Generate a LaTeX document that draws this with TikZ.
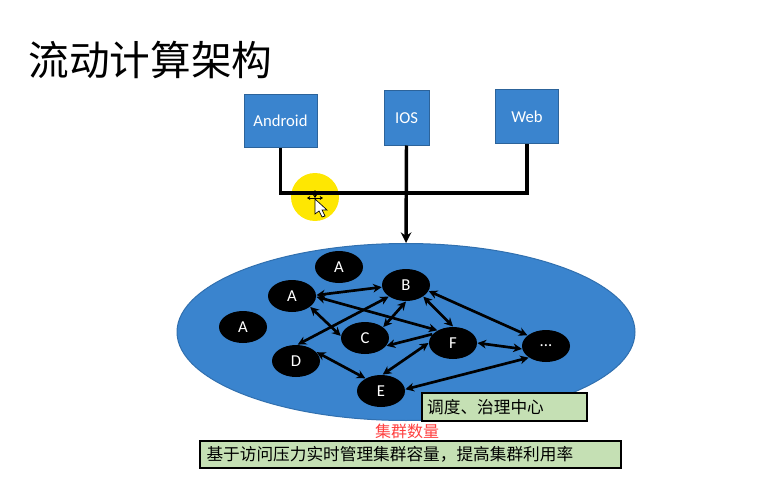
\documentclass[tikz,border=0pt]{standalone}
\usepackage{fontspec}
\setmainfont{Carlito}
\newfontfamily\cjk{Noto Sans CJK SC}
\usetikzlibrary{arrows.meta,shapes.geometric}
\definecolor{clusterblue}{HTML}{3A84CE}
\definecolor{notegreen}{HTML}{C5E0B4}
\tikzset{every picture/.style={line width=0.75pt}}
\tikzset{
  clientbox/.style={draw=clusterblue!75!black,fill=clusterblue,text=white,inner sep=0pt,font=\fontsize{12.5}{14}\selectfont},
  workernode/.style={ellipse,fill=black,text=white,inner sep=0pt,minimum width=36pt,minimum height=24pt,font=\fontsize{12.5}{14}\selectfont},
  notebox/.style={draw=black,line width=1.6pt,fill=notegreen,anchor=west,inner sep=0pt,font=\cjk\fontsize{12.5}{15}\selectfont},
  busline/.style={line width=2.6pt},
  linkline/.style={line width=2pt,{Stealth[length=6.5pt,width=6.5pt]}-{Stealth[length=6.5pt,width=6.5pt]}}
}
\begin{document}
\begin{tikzpicture}[x=0.75pt,y=0.75pt,yscale=-1,xscale=1]
    \useasboundingbox (0,0) rectangle (782,485);

    %Shape: Cluster ellipse
    \node (cluster) [ellipse,draw=clusterblue!85!black,fill=clusterblue,inner sep=0pt,minimum width=343.5pt,minimum height=132.75pt] at (406,332) {};
    %Shape: Pointer spot
    \fill [yellow!90!orange] (315,197) circle (24);

    % Text Node
    \node (title) [anchor=west,inner sep=0pt,font=\cjk\fontsize{30.5}{36}\selectfont] at (28,60) {流动计算架构};

    % Clients
    \node (android) [clientbox,minimum width=54.75pt,minimum height=40pt] at (280.5,121) {Android};
    \node (ios) [clientbox,minimum width=33.75pt,minimum height=40.5pt] at (406.5,118) {IOS};
    \node (web) [clientbox,minimum width=47.25pt,minimum height=39.75pt] at (527,116.5) {Web};

    % Workers
    \node (idleA) [workernode] at (339,267) {A};
    \node (spareA) [workernode] at (243,327) {A};
    \node (nodeA) [workernode] at (292,296) {A};
    \node (nodeB) [workernode] at (406,285) {B};
    \node (nodeC) [workernode] at (365,338) {C};
    \node (nodeD) [workernode] at (296,361) {D};
    \node (nodeE) [workernode] at (381,391) {E};
    \node (nodeF) [workernode] at (453,343) {F};
    \node (nodeG) [workernode] at (546,346) {...};

    % Bus
    \coordinate (busjoin) at (406.5,193);
    \draw [busline] (android.south) |- (busjoin) -| (web.south);
    \draw [busline,-{Stealth[length=8pt,width=8pt]}] (ios.south) -- (cluster.north);

    % Links
    \draw [linkline] (nodeA.2) -- (nodeB.185);
    \draw [linkline] (nodeA.-2) -- (nodeF.141);
    \draw [linkline] (nodeA.-31) -- (nodeC.175);
    \draw [linkline] (nodeB.214) -- (nodeD.84);
    \draw [linkline] (nodeB.270) -- (nodeC.31);
    \draw [linkline] (nodeB.-34) -- (nodeF.90);
    \draw [linkline] (nodeB.-15) -- (nodeG.150);
    \draw [line width=2pt,-{Stealth[length=6.5pt,width=6.5pt]}] (nodeF.157) -- (nodeC.-20);
    \draw [linkline] (nodeF.180) -- (nodeE.84);
    \draw [linkline] (nodeF.0) -- (nodeG.187);
    \draw [linkline] (nodeD.23) -- (nodeE.141);
    \draw [linkline] (nodeE.4) -- (nodeG.214);

    % Notes
    \node (center) [notebox,minimum width=123.75pt,minimum height=21pt,text width=119pt,align=left] at (421,407) {\hspace*{1.5pt}调度、治理中心};
    \node (count) [inner sep=0pt,text=red!75!white,font=\cjk\fontsize{12}{14}\selectfont] at (407,431) {集群数量};
    \node (scaling) [notebox,minimum width=315.75pt,minimum height=20pt,text width=310pt,align=left] at (199,454.5) {\hspace*{2pt}基于访问压力实时管理集群容量\char"FF0C\relax 提高集群利用率};

    %Shape: Pointer
    \draw [line width=0.5pt,fill=white] (315,199) -- (315,214) -- (319,211) -- (322,217) -- (325,216) -- (322,210) -- (327,210) -- cycle;
    \draw [line width=0.6pt,{Stealth[length=2.5pt,width=3pt]}-{Stealth[length=2.5pt,width=3pt]}] (307,198) -- (323,198);
    \draw [line width=0.6pt,{Stealth[length=2.5pt,width=3pt]}-{Stealth[length=2.5pt,width=3pt]}] (315,190) -- (315,198);

\end{tikzpicture}
\end{document}
